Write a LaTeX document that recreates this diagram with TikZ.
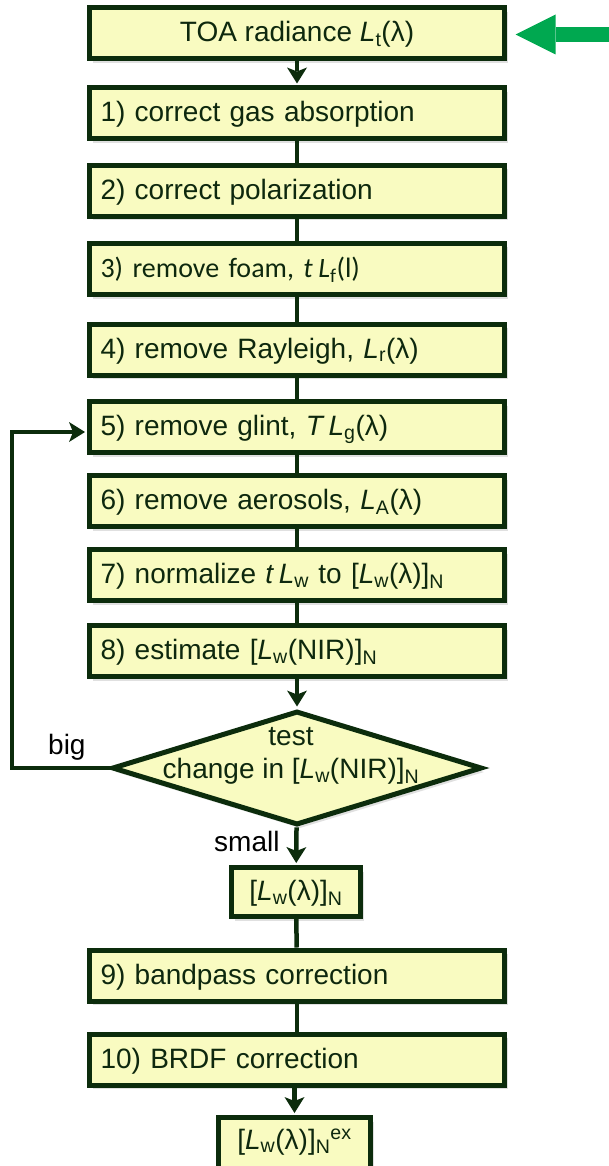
\documentclass[tikz,border=0pt]{standalone}
\usepackage{fontspec}
\setmainfont{Liberation Sans}
\newfontfamily\calibrifont{Carlito}
\usetikzlibrary{arrows.meta,shapes.geometric,shadows}

\definecolor{boxfill}{RGB}{249,251,193}
\definecolor{boxline}{RGB}{12,44,12}
\definecolor{inkgreen}{RGB}{14,40,14}
\definecolor{feedgreen}{RGB}{0,168,80}

% italic radiance symbol with an upright subscript
\newcommand{\Lsb}[1]{\textit{L}\textsubscript{#1}}
% italic factor followed by a radiance symbol
\newcommand{\fLsb}[2]{\textit{#1\hspace{0.2em}L}\textsubscript{#2}}

\begin{document}
\begin{tikzpicture}[x=1pt,y=-1pt,
  every node/.style={font=\fontsize{28}{33}\selectfont},
  box/.style={draw=boxline, fill=boxfill, line width=5pt, text=inkgreen,
    minimum height=51pt, text height=20pt, text depth=3pt, inner ysep=0pt,
    drop shadow={shadow xshift=3pt, shadow yshift=-4pt, opacity=0.12, fill=black}},
  stepbox/.style={box, text width=393pt, align=left, inner xsep=11pt},
  topbox/.style={box, minimum width=415pt, align=center},
  decision/.style={diamond, draw=boxline, fill=boxfill, line width=5pt,
    minimum width=370pt, minimum height=114pt, inner sep=0pt,
    drop shadow={shadow xshift=3pt, shadow yshift=-4pt, opacity=0.12, fill=black}},
  link/.style={draw=boxline, line width=4.5pt},
  linkarrow/.style={link, -{Stealth[length=16pt, width=20pt, inset=4pt, line width=0pt 0 0]}, shorten >=2pt},
  lbl/.style={inner sep=0pt, text=black},
  feed/.style={draw=feedgreen, line width=15pt,
    -{Triangle[length=40pt, width=40pt, line width=0pt 0 0]}}
]
\useasboundingbox (0,0) rectangle (608,1166);

% processing chain
\node[topbox]  (toa) at (297,33.5)  {TOA radiance \Lsb{t}(λ)};
\node[stepbox] (s1)  at (297,113.5) {1) correct gas absorption};
\node[stepbox] (s2)  at (297,191)   {2) correct polarization};
\node[stepbox, font=\calibrifont\fontsize{28}{33}\selectfont]
               (s3)  at (297,269)   {3) remove foam, \fLsb{t}{f}(l)};
\node[stepbox] (s4)  at (297,349.5) {4) remove Rayleigh, \Lsb{r}(λ)};
\node[stepbox] (s5)  at (297,427)   {5) remove glint, \fLsb{T}{g}(λ)};
\node[stepbox] (s6)  at (297,501)   {6) remove aerosols, \Lsb{A}(λ)};
\node[stepbox] (s7)  at (297,575)   {7) normalize \fLsb{t}{w} to [\Lsb{w}(λ)]\textsubscript{N}};
\node[stepbox] (s8)  at (297,651)   {8) estimate [\Lsb{w}(NIR)]\textsubscript{N}};

% convergence test
\node[decision] (test) at (297,768) {};
\node[text=inkgreen, align=center, inner sep=0pt] (testtxt) at (291,756)
  {test\\change in [\Lsb{w}(NIR)]\textsubscript{N}};

\node[box, minimum width=129pt, minimum height=49pt] (nlw) at (296,892)
  {[\Lsb{w}(λ)]\textsubscript{N}};
\node[stepbox] (s9)  at (297,975.5)  {9) bandpass correction};
\node[stepbox] (s10) at (297,1059.5) {10) BRDF correction};
\node[box, minimum width=152pt, minimum height=60pt, text depth=17pt] (nlwex) at (294.5,1147.5)
  {[\Lsb{w}(λ)]\textsubscript{N}\textsuperscript{ex}};

% connectors
\draw[linkarrow] (toa) -- (s1);
\draw[link] (s1) -- (s2);
\draw[link] (s2) -- (s3);
\draw[link] (s3) -- (s4);
\draw[link] (s4) -- (s5);
\draw[link] (s5) -- (s6);
\draw[link] (s6) -- (s7);
\draw[link] (s7) -- (s8);
\draw[linkarrow] (s8) -- (test);
\draw[linkarrow] (test) -- (nlw);
\draw[link] (nlw) -- (s9);
\draw[link] (s9) -- (s10);
\draw[linkarrow] (s10.south -| nlwex) -- (nlwex);

% iteration loop back to the glint step
\coordinate (loopx) at (12,0);
\draw[linkarrow] (test.west) -- (test.west -| loopx) |- ([yshift=-5pt]s5.west);
\node[lbl, anchor=base west] (big)   at (48,754)  {big};
\node[lbl, anchor=base west] (small) at (214,851) {small};

% input marker
\coordinate (gsrc) at (612,34.5);
\draw[feed, shorten >=8.5pt] (gsrc) -- (gsrc -| toa.east);
\end{tikzpicture}
\end{document}
